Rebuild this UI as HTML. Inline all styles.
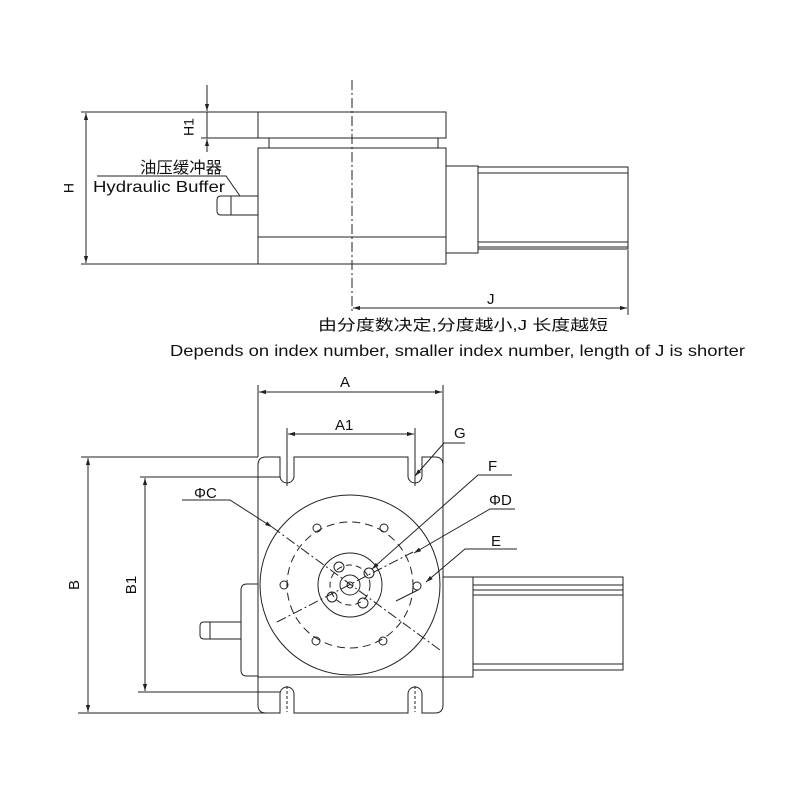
<!DOCTYPE html>
<html><head><meta charset="utf-8"><style>
html,body{margin:0;padding:0;background:#fff}
svg{display:block}
text{font-family:"Liberation Sans","Noto Sans CJK SC",sans-serif;fill:#111}
</style></head><body>
<svg width="800" height="800" viewBox="0 0 800 800" xmlns="http://www.w3.org/2000/svg">
<defs>
<marker id="a" viewBox="0 0 10 10" refX="10" refY="5" markerWidth="7" markerHeight="7" orient="auto-start-reverse"><path d="M0,2 L10,5 L0,8 z" fill="#222"/></marker>
</defs>
<g stroke="#222" stroke-width="1" fill="none">
<rect x="258" y="112" width="188" height="26"/>
<rect x="269" y="138" width="169" height="10"/>
<rect x="258" y="148" width="188" height="116"/>
<line x1="258" y1="237" x2="446" y2="237"/>
<rect x="446" y="166" width="32" height="87"/>
<rect x="478" y="167" width="150" height="82"/>
<line x1="478" y1="173" x2="628" y2="173"/>
<line x1="478" y1="242" x2="628" y2="242"/>
<line x1="478" y1="247" x2="628" y2="247"/>
<path d="M231,196 H258 V215 H231 Z"/>
<path d="M231,196 H221 Q217,196 217,200 V211 Q217,215 221,215 H231"/>
<line x1="352" y1="80" x2="352" y2="312" stroke-dasharray="10,3,2,3"/>
<line x1="81" y1="112" x2="258" y2="112"/>
<line x1="81" y1="264" x2="258" y2="264"/>
<line x1="86" y1="113" x2="86" y2="263" marker-start="url(#a)" marker-end="url(#a)"/>
<line x1="201" y1="138" x2="258" y2="138"/>
<line x1="207" y1="85" x2="207" y2="111" marker-end="url(#a)"/>
<line x1="207" y1="152" x2="207" y2="139" marker-end="url(#a)"/>
<line x1="207" y1="112" x2="207" y2="138"/>
<polyline points="97,176 226,176 240,196"/>
<line x1="628" y1="250" x2="628" y2="315"/>
<line x1="353" y1="308" x2="627" y2="308" marker-start="url(#a)" marker-end="url(#a)"/>

<path d="M266,457 H280 V476 A7,7 0 0 0 294,476 V457 H408 V476 A7,7 0 0 0 422,476 V457 H435 Q443,457 443,465 V705 Q443,713 435,713 H422 V694 A7,7 0 0 0 408,694 V713 H294 V694 A7,7 0 0 0 280,694 V713 H266 Q258,713 258,705 V465 Q258,457 266,457 Z"/>
<line x1="258" y1="677" x2="443" y2="677"/>
<circle cx="350" cy="585" r="90"/>
<circle cx="350" cy="585" r="63" stroke-dasharray="8,5"/>
<circle cx="350" cy="585" r="32"/>
<circle cx="350" cy="585" r="20" stroke-dasharray="6,4"/>
<circle cx="350" cy="585" r="10"/>
<circle cx="350" cy="585" r="3"/>
<circle cx="317" cy="528" r="4"/><circle cx="384" cy="528" r="4"/>
<circle cx="284" cy="585" r="4"/><circle cx="417" cy="586" r="4"/>
<circle cx="316" cy="641" r="4"/><circle cx="383" cy="641" r="4"/>
<circle cx="339" cy="567" r="5"/><circle cx="369" cy="573" r="5"/>
<circle cx="332" cy="597" r="5"/><circle cx="363" cy="603" r="5"/>
<path d="M258,584 H247 Q241,584 241,590 V670 Q241,676 247,676 H258"/>
<rect x="210" y="622" width="31" height="17"/>
<path d="M210,622 H204 Q200,622 200,626 V635 Q200,639 204,639 H210"/>
<rect x="443" y="577" width="30" height="100"/>
<rect x="473" y="577" width="150" height="93"/>
<line x1="473" y1="585" x2="623" y2="585"/>
<line x1="473" y1="590" x2="623" y2="590"/>
<line x1="473" y1="595" x2="623" y2="595"/>
<line x1="473" y1="664" x2="623" y2="664"/>
<line x1="287" y1="442" x2="287" y2="486"/>
<line x1="415" y1="428" x2="415" y2="486"/>
<line x1="287" y1="686" x2="287" y2="712" stroke-dasharray="3,2"/>
<line x1="415" y1="686" x2="415" y2="712" stroke-dasharray="3,2"/>
<line x1="258" y1="385" x2="258" y2="457"/>
<line x1="443" y1="385" x2="443" y2="470"/>
<line x1="259" y1="392" x2="442" y2="392" marker-start="url(#a)" marker-end="url(#a)"/>
<line x1="287" y1="428" x2="287" y2="442"/>
<line x1="288" y1="434" x2="414" y2="434" marker-start="url(#a)" marker-end="url(#a)"/>
<line x1="81" y1="457" x2="258" y2="457"/>
<line x1="78" y1="713" x2="266" y2="713"/>
<line x1="88" y1="458" x2="88" y2="712" marker-start="url(#a)" marker-end="url(#a)"/>
<line x1="140" y1="477" x2="280" y2="477"/>
<line x1="138" y1="692" x2="280" y2="692"/>
<line x1="145" y1="478" x2="145" y2="691" marker-start="url(#a)" marker-end="url(#a)"/>
<line x1="272" y1="527" x2="440" y2="650" stroke-dasharray="10,3,2,3"/>
<line x1="277" y1="622" x2="413" y2="552" stroke-dasharray="10,3,2,3"/>
<polyline points="182,500 230,500 272,527" marker-end="url(#a)"/>
<polyline points="515,509 490,509 414,553" marker-end="url(#a)"/>
<polyline points="512,475 478,475 372,569" marker-end="url(#a)"/>
<polyline points="517,549 465,549 426,582" marker-end="url(#a)"/>
<line x1="396" y1="601" x2="418" y2="590"/>
<polyline points="465,443 444,443 415,476" marker-end="url(#a)"/>
</g>
<text x="190" y="127" font-size="14" transform="rotate(-90 190 127)" text-anchor="middle" dominant-baseline="middle">H1</text>
<text x="70" y="188" font-size="14" transform="rotate(-90 70 188)" text-anchor="middle" dominant-baseline="middle">H</text>
<text x="140" y="173" font-size="16" textLength="82" lengthAdjust="spacingAndGlyphs">油压缓冲器</text>
<text x="93" y="192" font-size="16" textLength="132" lengthAdjust="spacingAndGlyphs">Hydraulic Buffer</text>
<text x="487" y="304" font-size="15">J</text>
<text x="318" y="330" font-size="15" textLength="290" lengthAdjust="spacingAndGlyphs">由分度数决定,分度越小,J 长度越短</text>
<text x="170" y="356" font-size="16" textLength="575" lengthAdjust="spacingAndGlyphs">Depends on index number, smaller index number, length of J is shorter</text>
<text x="340" y="387" font-size="15">A</text>
<text x="335" y="430" font-size="15">A1</text>
<text x="454" y="438" font-size="15">G</text>
<text x="488" y="471" font-size="15">F</text>
<text x="194" y="498" font-size="15">ΦC</text>
<text x="489" y="505" font-size="15">ΦD</text>
<text x="491" y="546" font-size="15">E</text>
<text x="75" y="585" font-size="15" transform="rotate(-90 75 585)" text-anchor="middle" dominant-baseline="middle">B</text>
<text x="132" y="585" font-size="15" transform="rotate(-90 132 585)" text-anchor="middle" dominant-baseline="middle">B1</text>
</svg>
</body></html>
